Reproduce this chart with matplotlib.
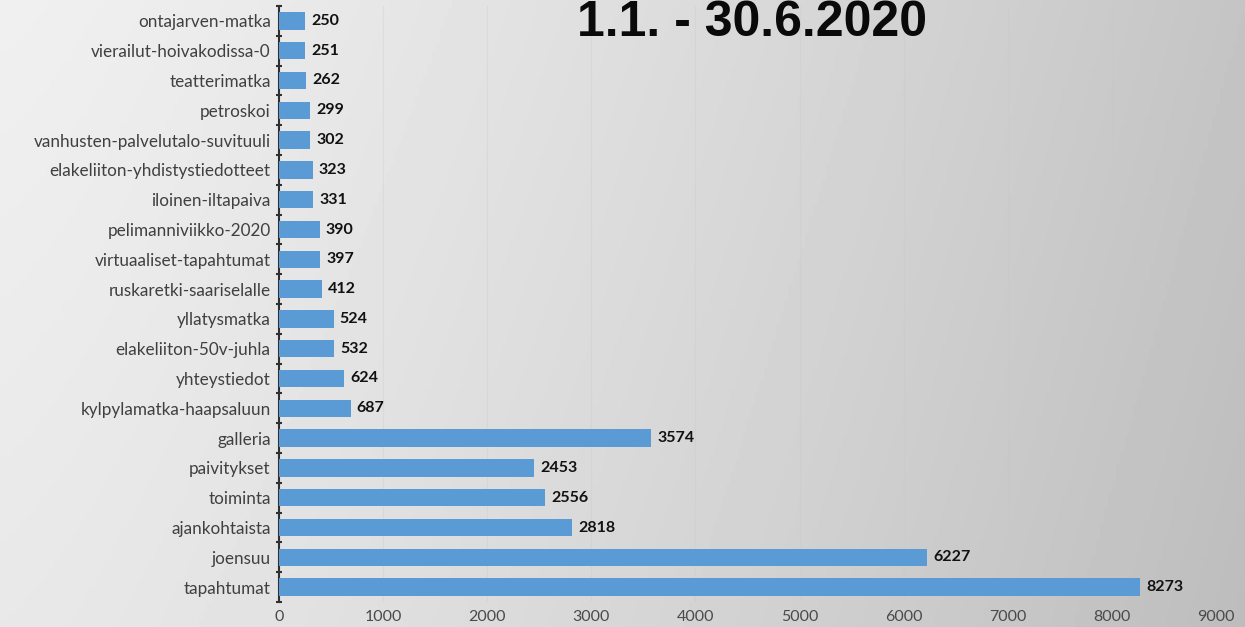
import numpy as np
import matplotlib
matplotlib.use("Agg")
import matplotlib.pyplot as plt
from matplotlib.ticker import FixedLocator

categories = ["tapahtumat", "joensuu", "ajankohtaista", "toiminta", "paivitykset",
              "galleria", "kylpylamatka-haapsaluun", "yhteystiedot", "elakeliiton-50v-juhla",
              "yllatysmatka", "ruskaretki-saariselalle", "virtuaaliset-tapahtumat",
              "pelimanniviikko-2020", "iloinen-iltapaiva", "elakeliiton-yhdistystiedotteet",
              "vanhusten-palvelutalo-suvituuli", "petroskoi", "teatterimatka",
              "vierailut-hoivakodissa-0", "ontajarven-matka"]
values = [8273, 6227, 2818, 2556, 2453, 3574, 687, 624, 532, 524, 412, 397,
          390, 331, 323, 302, 299, 262, 251, 250]
xticks = [0, 1000, 2000, 3000, 4000, 5000, 6000, 7000, 8000, 9000]
title = "1.1. - 30.6.2020"

W, H = 1245, 627
fig = plt.figure(figsize=(W / 100, H / 100), dpi=100)

# background gradient
bg = fig.add_axes([0, 0, 1, 1], zorder=-10)
gx = np.linspace(0, 1, 300)[None, :]
gy = np.linspace(0, 1, 150)[:, None]
shade = 0.94 - 0.17 * gx ** 1.3 - 0.03 * gy
bg.imshow(shade, cmap="gray", vmin=0, vmax=1, aspect="auto", extent=[0, 1, 0, 1])
bg.set_axis_off()

ax = fig.add_axes([279 / W, 25 / 627, (1216 - 279) / W, (602 - 6) / 627])
ax.patch.set_alpha(0)
y = np.arange(len(categories))
ax.barh(y, values, height=0.58, color="#5b9bd5", zorder=3)
ax.set_xlim(0, 9000)
ax.set_ylim(-0.5, len(categories) - 0.5)
ax.set_xticks(xticks)
ax.set_xticklabels([str(t) for t in xticks], fontsize=11.5, color="#4a4a4a", family="Lato")
ax.tick_params(axis="x", length=0, pad=6)
ax.set_yticks(y)
ax.set_yticklabels(categories, fontsize=12.3, color="#404040", family="Lato")
ax.yaxis.set_minor_locator(FixedLocator(np.arange(-0.5, len(categories), 1)))
ax.tick_params(axis="y", which="major", length=0, pad=6)
ax.tick_params(axis="y", which="minor", length=4, width=1.5, direction="inout", color="#303030")
for s in ["top", "right", "bottom"]:
    ax.spines[s].set_visible(False)
ax.spines["left"].set_color("#303030")
ax.spines["left"].set_linewidth(1.5)
ax.grid(axis="x", color="#c8c8c8", linewidth=0.8, alpha=0.3, zorder=0)
ax.set_axisbelow(True)

for yi, v in zip(y, values):
    ax.text(v + 60, yi, str(v), va="center", ha="left", fontsize=11.5,
            fontweight="bold", family="Lato", color="#111111", zorder=4)

fig.text(752 / W, 1 - 23 / 627, title, ha="center", va="center", fontsize=36,
         fontweight="bold", family="Liberation Sans", color="#0a0a0a")

fig.savefig("out.png", dpi=100)
